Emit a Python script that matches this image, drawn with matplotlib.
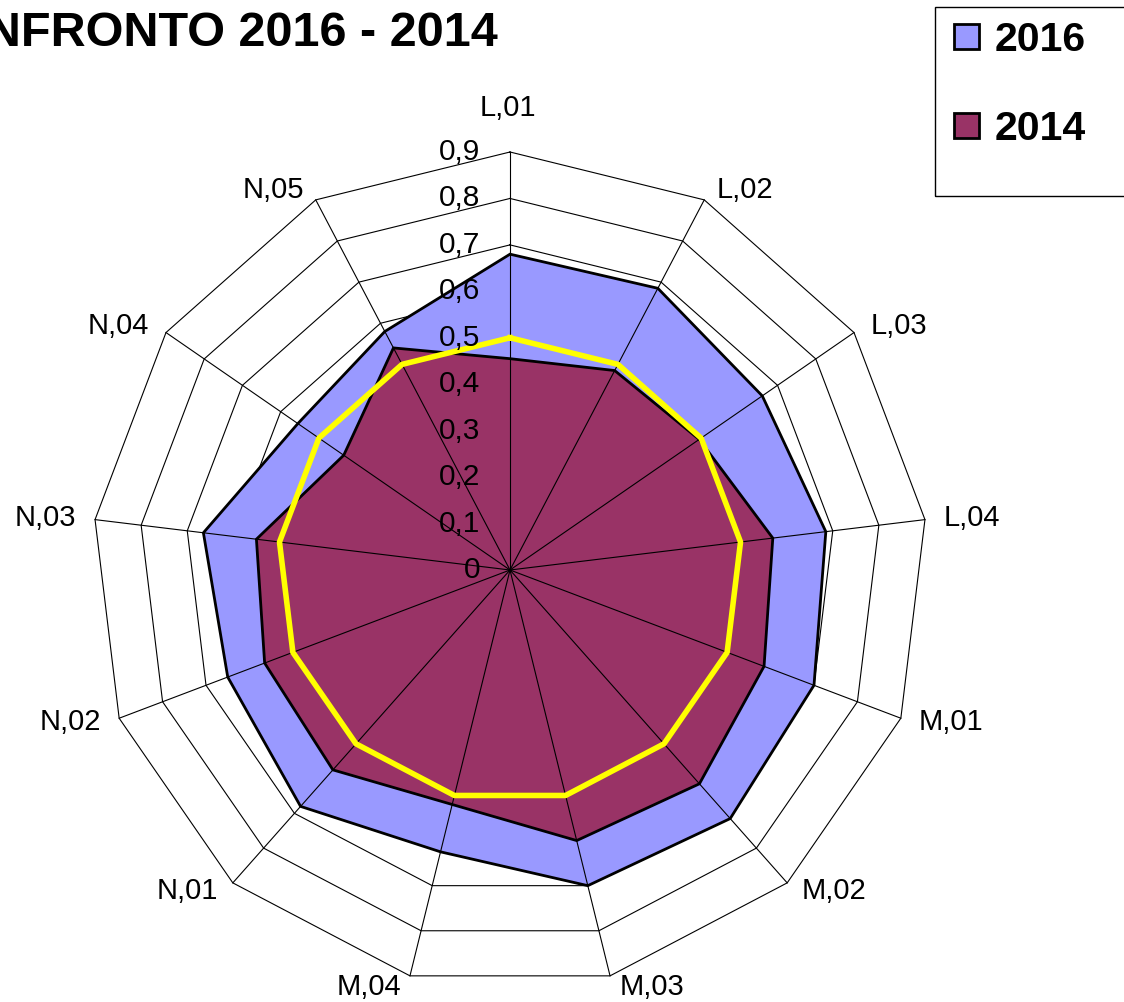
import numpy as np
import matplotlib
matplotlib.use('Agg')
import matplotlib.pyplot as plt
from matplotlib.patches import Rectangle

plt.rcParams['font.family'] = ['Liberation Sans', 'DejaVu Sans']

# data
categories = ['L,01', 'L,02', 'L,03', 'L,04', 'M,01', 'M,02', 'M,03',
              'M,04', 'N,01', 'N,02', 'N,03', 'N,04', 'N,05']
vals_2016 = [0.68, 0.685, 0.66, 0.685, 0.70, 0.715, 0.70,
             0.625, 0.68, 0.65, 0.665, 0.555, 0.58]
vals_2014 = [0.455, 0.485, 0.495, 0.57, 0.585, 0.615, 0.60,
             0.52, 0.575, 0.565, 0.55, 0.435, 0.54]
vals_ref = [0.5] * 13
ticks = [0, 0.1, 0.2, 0.3, 0.4, 0.5, 0.6, 0.7, 0.8, 0.9]
tick_labels = ['0', '0,1', '0,2', '0,3', '0,4', '0,5', '0,6', '0,7', '0,8', '0,9']

W, H = 1124, 1002
fig = plt.figure(figsize=(W / 100, H / 100), dpi=100)

cx, cy, R = 510, 570, 418
ax = fig.add_axes([(cx - R) / W, (H - cy - R) / H, 2 * R / W, 2 * R / H],
                  projection='polar')
ax.set_theta_zero_location('N')
ax.set_theta_direction(-1)
ax.set_ylim(0, ticks[-1])
ax.set_xticks([])
ax.set_yticks([])
ax.grid(False)
ax.spines['polar'].set_visible(False)

n = len(categories)
theta = np.arange(n) * 2 * np.pi / n
tc = np.append(theta, theta[0])

def closed(v):
    return np.append(v, v[0])

# polygon grid
for r in ticks[1:]:
    ax.plot(tc, [r] * (n + 1), color='black', lw=0.8, zorder=1, clip_on=False)

h16 = ax.fill(tc, closed(vals_2016), facecolor='#9999FF', edgecolor='black',
              lw=2, zorder=2, label='2016')[0]
h14 = ax.fill(tc, closed(vals_2014), facecolor='#993366', edgecolor='black',
              lw=2, zorder=3, label='2014')[0]

# spokes
for t in theta:
    ax.plot([t, t], [0, ticks[-1]], color='black', lw=0.8, zorder=4, clip_on=False)

ax.plot(tc, closed(vals_ref), color='#FFFF00', lw=4, zorder=5)

# radial labels
for r, lab in zip(ticks, tick_labels):
    ax.annotate(lab, xy=(0, r), xytext=(-30, 0), textcoords='offset pixels',
                ha='right', va='center', fontsize=21.5, zorder=6)

# category labels
for t, lab in zip(theta, categories):
    s, c = np.sin(t), np.cos(t)
    if abs(s) < 0.01:
        ha, dx, dy = 'center', -2, 44
    else:
        ha = 'left' if s > 0 else 'right'
        dx = np.sign(s) * (6 + 13 * abs(s))
        dy = 11 * c
    ax.annotate(lab, xy=(t, ticks[-1]), xytext=(dx, dy), textcoords='offset pixels',
                ha=ha, va='center', fontsize=21, annotation_clip=False)

fig.text(498 / W, 1 - 46 / H, 'CONFRONTO 2016 - 2014', ha='right',
         va='baseline', fontsize=35, fontweight='bold')

fig.legend(handles=[h16, h14], labels=['2016', '2014'], loc='upper left',
           bbox_to_anchor=(954 / W, 1 - 21 / H), frameon=False, borderpad=0,
           borderaxespad=0, handlelength=0.62, handleheight=0.55,
           handletextpad=0.38, labelspacing=1.25,
           prop={'weight': 'bold', 'size': 29.5})
fig.add_artist(Rectangle((935 / W, 1 - 196 / H), 300 / W, 189 / H,
                         transform=fig.transFigure, fill=False,
                         edgecolor='black', lw=1))

fig.savefig('out.png', dpi=100)
